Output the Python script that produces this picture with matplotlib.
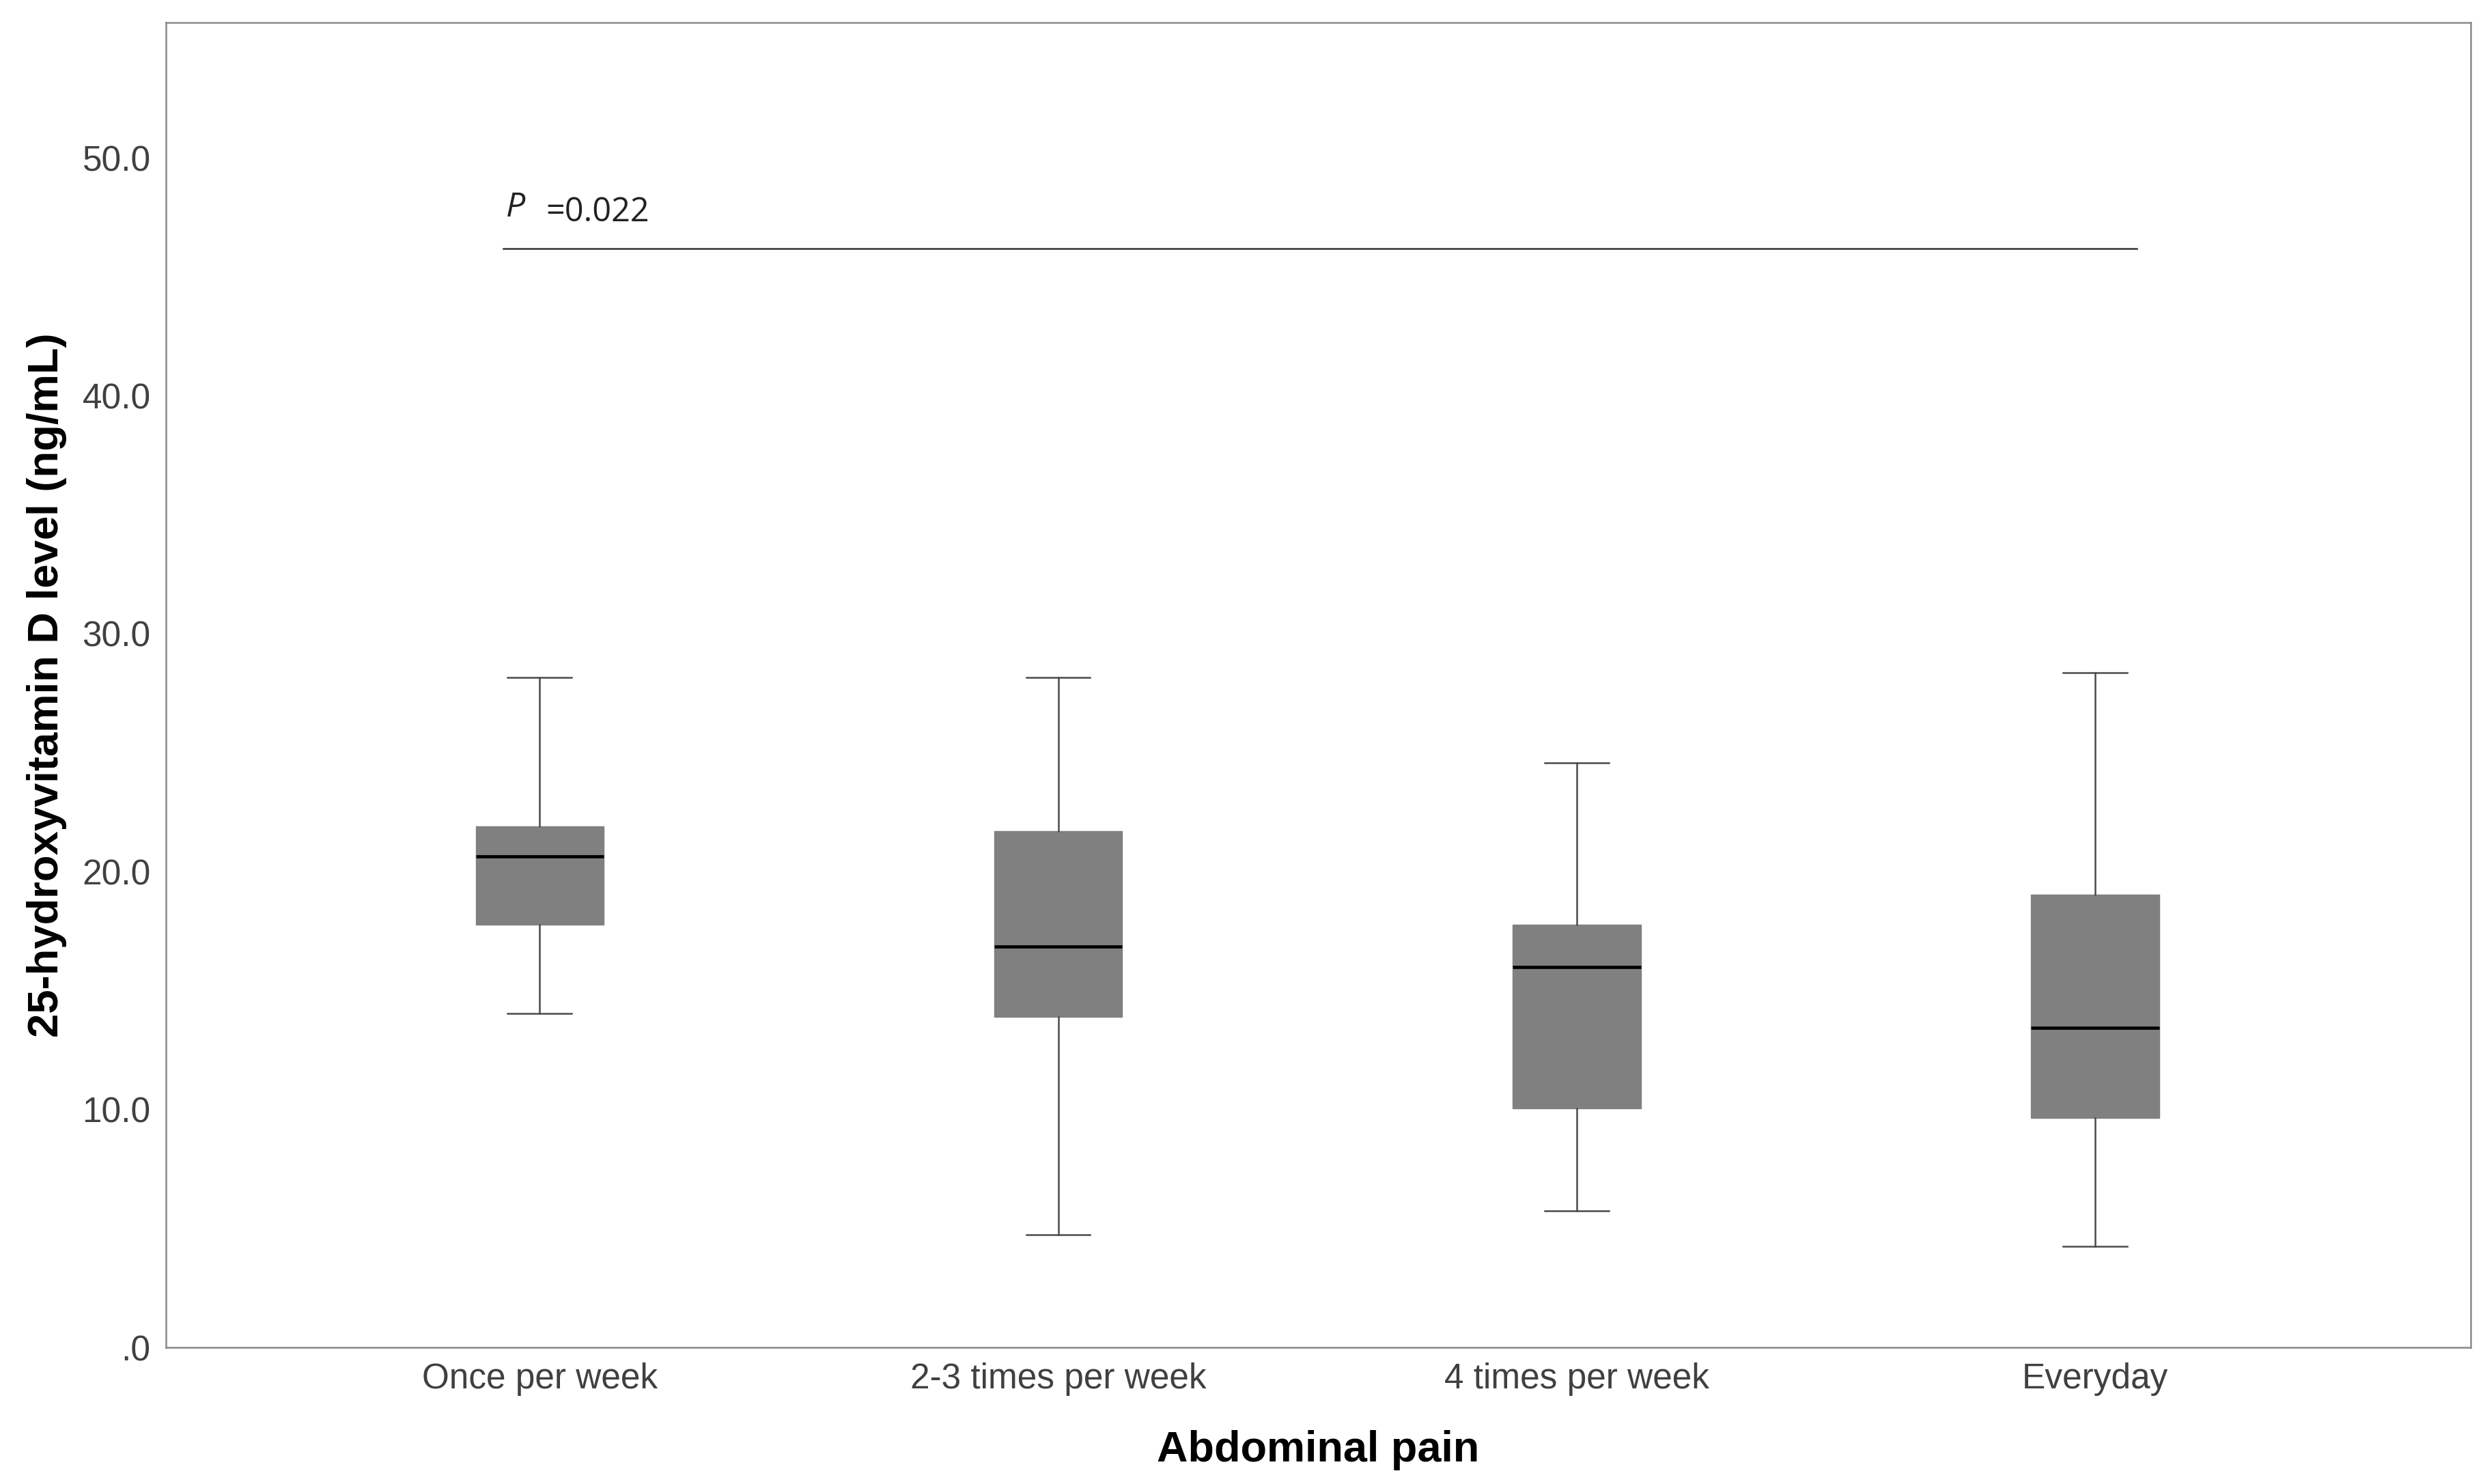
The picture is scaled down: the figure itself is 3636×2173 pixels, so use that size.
import matplotlib
matplotlib.use("Agg")
import matplotlib.pyplot as plt

categories = ["Once per week", "2-3 times per week", "4 times per week", "Everyday"]
whisker_low = [14.05, 4.73, 5.73, 4.26]
q1 = [17.78, 13.9, 10.05, 9.65]
median = [20.64, 16.84, 15.98, 13.45]
q3 = [21.9, 21.7, 17.78, 19.04]
whisker_high = [28.16, 28.16, 24.57, 28.36]
yticks = [0, 10, 20, 30, 40, 50]
ytick_labels = [".0", "10.0", "20.0", "30.0", "40.0", "50.0"]
p_value_text = "=0.022"
p_line_y = 46.2

fig = plt.figure(figsize=(18.18, 10.865), dpi=200)
ax = fig.add_axes([0.0668, 0.092, 0.9282, 0.893])

stats = []
for i, c in enumerate(categories):
    stats.append(dict(label=c, whislo=whisker_low[i], q1=q1[i], med=median[i],
                      q3=q3[i], whishi=whisker_high[i], fliers=[]))

positions = list(range(len(categories)))
ax.bxp(stats, positions=positions, widths=0.247, patch_artist=True, showfliers=False,
       boxprops=dict(facecolor="#808080", edgecolor="#808080", linewidth=0.5),
       medianprops=dict(color="black", linewidth=1.7),
       whiskerprops=dict(color="#4a4a4a", linewidth=0.9),
       capprops=dict(color="#4a4a4a", linewidth=0.9))

ax.set_xlim(-0.721, 3.724)
ax.set_ylim(0, 55.7)
ax.set_yticks(yticks)
ax.set_yticklabels(ytick_labels)
ax.set_xticks(positions)
ax.set_xticklabels(categories)
ax.tick_params(axis="both", length=0, labelsize=18.5, labelcolor="#404040", pad=8)
for lab in ax.get_xticklabels() + ax.get_yticklabels():
    lab.set_family("Liberation Sans")

for s in ax.spines.values():
    s.set_color("#8a8a8a")
    s.set_linewidth(0.9)

ax.set_xlabel("Abdominal pain", fontsize=22.7, fontweight="bold", family="Liberation Sans", labelpad=18)
ax.set_ylabel("25-hydroxyvitamin D level (ng/mL)", fontsize=22.8, fontweight="bold",
              family="Liberation Sans", labelpad=8)

# significance line
ax.plot([-0.07, 3.08], [p_line_y, p_line_y], color="#333333", linewidth=0.9)
ax.text(-0.065, 47.9, "P", fontsize=18, style="italic", family="Open Sans", va="center", ha="left", color="#222222")
ax.text(0.012, 47.7, p_value_text, fontsize=17.5, family="Open Sans", va="center", ha="left", color="#222222")

fig.savefig("out.png", dpi=200)
